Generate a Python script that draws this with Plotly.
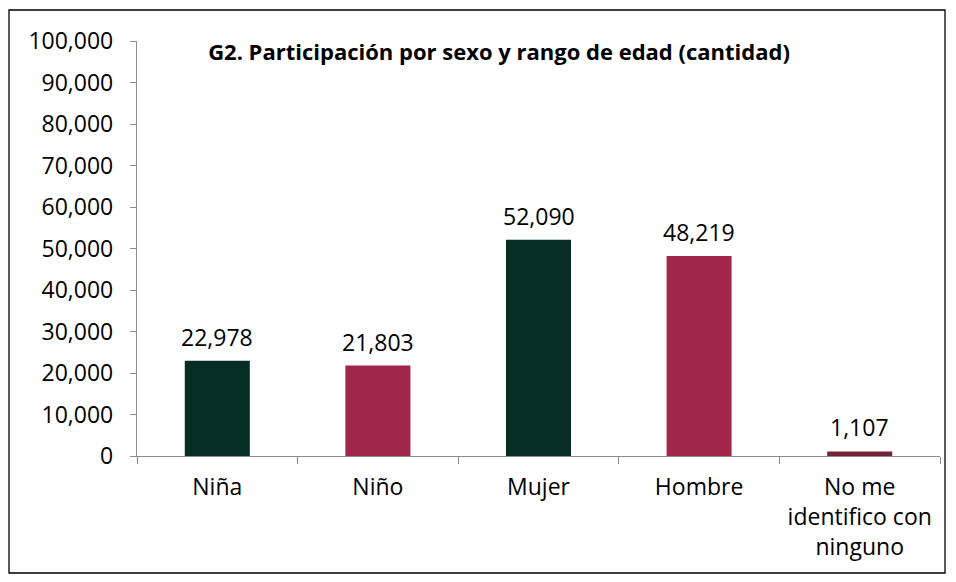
import plotly.graph_objects as go

# Datos del gráfico G2
categorias = ["Niña", "Niño", "Mujer", "Hombre", "No me<br>identifico con<br>ninguno"]
participacion = [22978, 21803, 52090, 48219, 1107]
colores = ["#062e22", "#a0264a", "#062e22", "#a0264a", "#74213c"]

y_ticks = list(range(0, 100001, 10000))
y_tick_labels = [f"{v:,}" for v in y_ticks]

FONT = "Open Sans, Calibri, Arial, sans-serif"
AXIS_GRAY = "#8c8c8c"

# La página tiene un margen de 8px, el gráfico ocupa 940x566
W, H = 940, 566
L, R, T, B = 129, 932, 33, 448

fig = go.Figure(
    go.Bar(
        x=categorias,
        y=participacion,
        marker=dict(color=colores, line=dict(width=0)),
        width=0.405,
        showlegend=False,
        hoverinfo="x+y",
    )
)

# Etiquetas de valor sobre las barras
for cat, val in zip(categorias, participacion):
    fig.add_annotation(
        x=cat,
        y=val,
        text=f"{val:,}",
        showarrow=False,
        yanchor="bottom",
        yshift=6,
        font=dict(size=23, color="#000000", family=FONT),
    )

fig.update_layout(
    width=W,
    height=H,
    margin=dict(l=L, r=W - R, t=T, b=H - B),
    paper_bgcolor="white",
    plot_bgcolor="white",
    font=dict(family=FONT, size=23, color="#000000"),
    title=dict(
        text="<b>G2. Participación por sexo y rango de edad (cantidad)</b>",
        x=491 / W,
        xref="container",
        xanchor="center",
        y=1 - 44 / H,
        yref="container",
        yanchor="middle",
        font=dict(family=FONT, size=22, color="#000000"),
    ),
)

fig.update_yaxes(
    range=[0, 100000],
    tickvals=y_ticks,
    ticktext=y_tick_labels,
    showgrid=False,
    zeroline=False,
    showline=True,
    linecolor=AXIS_GRAY,
    linewidth=1.3,
    ticks="outside",
    ticklen=6,
    tickcolor=AXIS_GRAY,
    tickwidth=1.3,
    ticklabelstandoff=12,
    tickfont=dict(size=23),
)

fig.update_xaxes(
    showgrid=False,
    zeroline=False,
    showline=True,
    linecolor=AXIS_GRAY,
    linewidth=1.3,
    ticks="outside",
    tickson="boundaries",
    ticklen=7,
    tickcolor=AXIS_GRAY,
    tickwidth=1.3,
    ticklabelstandoff=10,
    tickfont=dict(size=23),
)

# Marco exterior del gráfico
pw, ph = R - L, B - T
fig.add_shape(
    type="rect",
    xref="paper",
    yref="paper",
    x0=(1 - L) / pw,
    x1=(937 - L) / pw,
    y0=(B - 565) / ph,
    y1=(B - 2) / ph,
    line=dict(color="#000000", width=1.3),
    fillcolor="rgba(0,0,0,0)",
    layer="below",
)

fig.write_html("out.html")
